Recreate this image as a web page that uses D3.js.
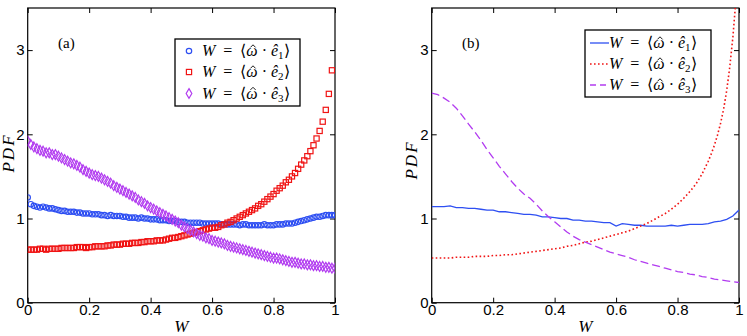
<!DOCTYPE html>
<html><head><meta charset="utf-8">
<script src="https://cdn.jsdelivr.net/npm/d3@7/dist/d3.min.js"></script>
<style>
body{margin:0;background:#fff;}
svg{display:block;}
.tick text{font-family:"Liberation Sans",Arial,sans-serif;font-size:15px;fill:#000;}
.tick line{stroke:#000;stroke-width:1;}
.serif{font-family:"Liberation Serif","Times New Roman",serif;}
</style>
</head><body>
<svg id="chart" width="747" height="336"></svg>
<script>
// ---------- data ----------
const wGridA = [0,0.01,0.02,0.03,0.04,0.05,0.06,0.07,0.08,0.09,0.10,0.11,0.12,0.13,0.14,0.15,0.16,0.17,0.18,0.19,0.20,0.21,0.22,0.23,0.24,0.25,0.26,0.27,0.28,0.29,0.30,0.31,0.32,0.33,0.34,0.35,0.36,0.37,0.38,0.39,0.40,0.41,0.42,0.43,0.44,0.45,0.46,0.47,0.48,0.49,0.50,0.51,0.52,0.53,0.54,0.55,0.56,0.57,0.58,0.59,0.60,0.61,0.62,0.63,0.64,0.65,0.66,0.67,0.68,0.69,0.70,0.71,0.72,0.73,0.74,0.75,0.76,0.77,0.78,0.79,0.80,0.81,0.82,0.83,0.84,0.85,0.86,0.87,0.88,0.89,0.90,0.91,0.92,0.93,0.94,0.95,0.96,0.97,0.98,0.99,1.00];

const pdfA_e1 = [1.25,1.17,1.15,1.14,1.13,1.14,1.13,1.12,1.12,1.11,
1.10,1.09,1.09,1.08,1.08,1.08,1.07,1.07,1.06,1.06,
1.06,1.05,1.05,1.05,1.04,1.04,1.03,1.04,1.03,1.03,
1.03,1.02,1.02,1.01,1.01,1.01,1.00,1.01,1.00,1.00,
0.99,0.99,0.99,0.98,0.98,0.98,0.97,0.97,0.97,0.96,
0.96,0.96,0.95,0.95,0.95,0.95,0.95,0.94,0.94,0.94,
0.94,0.94,0.94,0.93,0.93,0.93,0.93,0.93,0.93,0.92,
0.93,0.93,0.92,0.92,0.92,0.92,0.92,0.93,0.92,0.92,
0.92,0.93,0.93,0.93,0.94,0.94,0.94,0.95,0.96,0.97,
0.98,0.99,1.00,1.01,1.02,1.02,1.03,1.04,1.04,1.04,
1.04];

const pdfA_e2 = [0.63,0.63,0.63,0.63,0.64,0.64,0.63,0.64,0.64,0.64,
0.64,0.65,0.65,0.65,0.65,0.65,0.66,0.66,0.66,0.65,
0.66,0.66,0.67,0.67,0.67,0.67,0.68,0.68,0.69,0.69,
0.69,0.70,0.70,0.70,0.71,0.71,0.71,0.72,0.72,0.73,
0.73,0.73,0.74,0.74,0.74,0.75,0.76,0.77,0.77,0.78,
0.79,0.80,0.81,0.82,0.83,0.84,0.85,0.86,0.87,0.88,
0.89,0.89,0.90,0.92,0.93,0.95,0.96,0.98,1.00,1.02,
1.04,1.06,1.08,1.10,1.12,1.15,1.17,1.20,1.23,1.26,
1.29,1.33,1.36,1.39,1.43,1.46,1.50,1.54,1.59,1.64,
1.69,1.74,1.80,1.87,1.95,2.04,2.15,2.29,2.48,2.76];

const pdfA_e3 = [1.92,1.88,1.85,1.83,1.81,1.80,1.78,1.78,1.76,1.76,
1.74,1.72,1.70,1.68,1.66,1.65,1.63,1.61,1.58,1.56,
1.54,1.52,1.51,1.50,1.48,1.46,1.44,1.42,1.39,1.37,
1.35,1.33,1.31,1.29,1.27,1.25,1.22,1.20,1.18,1.15,
1.13,1.11,1.09,1.07,1.05,1.03,1.01,0.99,0.97,0.95,
0.92,0.90,0.88,0.86,0.84,0.82,0.80,0.79,0.77,0.76,
0.74,0.73,0.72,0.71,0.70,0.68,0.67,0.66,0.65,0.64,
0.63,0.62,0.61,0.60,0.59,0.58,0.57,0.56,0.55,0.54,
0.53,0.53,0.52,0.51,0.50,0.49,0.48,0.48,0.47,0.46,
0.46,0.45,0.45,0.44,0.44,0.43,0.43,0.42,0.42,0.41,
0.41];

const wGridB = [0,0.02,0.04,0.06,0.08,0.10,0.12,0.14,0.16,0.18,0.20,0.22,0.24,0.26,0.28,0.30,0.32,0.34,0.36,0.38,0.40,0.42,0.44,0.46,0.48,0.50,0.52,0.54,0.56,0.58,0.60,0.62,0.64,0.66,0.68,0.70,0.72,0.74,0.76,0.78,0.80,0.82,0.84,0.86,0.88,0.90,0.92,0.94,0.96,0.98,1.00];

const pdfB_e1 = [1.14,1.14,1.14,1.15,1.13,1.13,1.12,1.12,1.11,1.10,
1.10,1.08,1.08,1.07,1.06,1.05,1.05,1.04,1.02,1.02,
1.01,1.00,1.00,0.98,0.98,0.97,0.97,0.96,0.95,0.95,
0.91,0.94,0.93,0.92,0.92,0.91,0.91,0.91,0.91,0.92,
0.91,0.92,0.93,0.93,0.93,0.94,0.96,0.97,0.99,1.03,
1.10];

const pdfB_e3 = [2.49,2.47,2.43,2.38,2.31,2.22,2.12,2.03,1.93,1.82,
1.72,1.62,1.53,1.44,1.36,1.29,1.24,1.17,1.09,1.02,
0.96,0.90,0.84,0.79,0.75,0.72,0.69,0.66,0.63,0.60,
0.58,0.56,0.54,0.51,0.49,0.47,0.45,0.43,0.41,0.39,
0.37,0.36,0.34,0.33,0.31,0.30,0.28,0.27,0.26,0.25,
0.24];

const wGridB_e2 = [0,0.02,0.04,0.06,0.08,0.10,0.12,0.14,0.16,0.18,0.20,0.22,0.24,0.26,0.28,0.30,0.32,0.34,0.36,0.38,0.40,0.42,0.44,0.46,0.48,0.50,0.52,0.54,0.56,0.58,0.60,0.62,0.64,0.66,0.68,0.70,0.72,0.74,0.76,0.78,0.80,0.82,0.84,0.86,0.88,0.90,0.91,0.92,0.93,0.94,0.95,0.96,0.97,0.98,0.99];

const pdfB_e2 = [0.53,0.53,0.53,0.53,0.54,0.54,0.54,0.55,0.55,0.55,
0.56,0.56,0.57,0.57,0.58,0.59,0.60,0.61,0.62,0.63,
0.64,0.65,0.67,0.68,0.70,0.72,0.73,0.75,0.77,0.79,
0.81,0.83,0.85,0.88,0.91,0.94,0.98,1.02,1.06,1.11,
1.17,1.24,1.32,1.41,1.53,1.68,
1.77,1.87,1.99,2.13,2.30,2.52,2.80,3.15,3.60];

const xTickValues = [0,0.2,0.4,0.6,0.8,1];
const xTickLabels = ["0","0.2","0.4","0.6","0.8","1"];
const yTickValues = [0,1,2,3];
const yTickLabels = ["0","1","2","3"];
const seriesSubscripts = ["1","2","3"];
const panelLabels = ["(a)","(b)"];

// ---------- styles ----------
const colBlue = "#2e4ff2", colRed = "#f01414", colPurple = "#b23cf0";
const svg = d3.select("#chart");
const Y0 = 302.7, Y1 = 8;

function panel(x0, x1, id){
  const x = d3.scaleLinear().domain([0,1]).range([x0,x1]);
  const y = d3.scaleLinear().domain([0,3.5]).range([Y0,Y1]);
  const g = svg.append("g");
  g.append("defs").append("clipPath").attr("id","clip"+id)
    .append("rect").attr("x",x0).attr("y",Y1).attr("width",x1-x0).attr("height",Y0-Y1);
  const tickFmtX = (d,i)=>xTickLabels[i];
  const tickFmtY = (d,i)=>yTickLabels[i];
  g.append("g").attr("transform",`translate(0,${Y0})`)
    .call(d3.axisBottom(x).tickValues(xTickValues).tickFormat(tickFmtX).tickSize(-5).tickPadding(2))
    .call(s=>s.select(".domain").remove());
  g.append("g").attr("transform",`translate(0,${Y1})`)
    .call(d3.axisTop(x).tickValues(xTickValues).tickFormat("").tickSize(-5))
    .call(s=>s.select(".domain").remove());
  g.append("g").attr("transform",`translate(${x0},0)`)
    .call(d3.axisLeft(y).tickValues(yTickValues).tickFormat(tickFmtY).tickSize(-5).tickPadding(3))
    .call(s=>s.select(".domain").remove());
  g.append("g").attr("transform",`translate(${x1},0)`)
    .call(d3.axisRight(y).tickValues(yTickValues).tickFormat("").tickSize(-5))
    .call(s=>s.select(".domain").remove());
  g.append("rect").attr("x",x0).attr("y",Y1).attr("width",x1-x0).attr("height",Y0-Y1)
    .attr("fill","none").attr("stroke","#000").attr("stroke-width",1.2);
  g.append("text").attr("class","serif").attr("x",(x0+x1)/2).attr("y",332).attr("text-anchor","middle")
    .attr("font-style","italic").attr("font-size",17).text("W");
  return {g,x,y};
}

function yLabel(cx, cy){
  svg.append("text").attr("class","serif").attr("transform",`translate(${cx},${cy}) rotate(-90)`)
    .attr("text-anchor","middle")
    .attr("font-style","italic").attr("font-size",17).attr("letter-spacing",2).text("PDF");
}

function legendText(g, x, y, sub){
  const t = g.append("text").attr("class","serif").attr("x",x).attr("y",y)
    .attr("font-size",16).attr("fill","#000");
  t.append("tspan").attr("font-style","italic").text("W");
  t.append("tspan").text("\u2002=\u2002\u27E8");
  t.append("tspan").attr("font-style","italic").text("\u03C9");
  t.append("tspan").text(" \u00B7 ");
  t.append("tspan").attr("font-style","italic").text("\u00EA");
  t.append("tspan").attr("font-size",11).attr("dy",3).text(sub);
  t.append("tspan").attr("dy",-3).text("\u27E9");
  // hat over omega, drawn as a small stroke
  const n = t.node();
  const s = n.getStartPositionOfChar(5), e = n.getEndPositionOfChar(5);
  const cx = (s.x+e.x)/2 + 1;
  g.append("path").attr("d",`M${cx-2.6},${y-8.6}L${cx},${y-11.2}L${cx+2.6},${y-8.6}`)
    .attr("fill","none").attr("stroke","#000").attr("stroke-width",0.9);
}

const diamond = d3.symbol().type(d3.symbolDiamond).size(28);

// ---------- panel (a) ----------
const A = panel(27.7, 335, "A");
yLabel(14, 153);
const gA = A.g.append("g").attr("clip-path","url(#clipA)");
gA.append("g").selectAll("circle").data(pdfA_e1).join("circle")
  .attr("cx",(d,i)=>A.x(wGridA[i])).attr("cy",d=>A.y(d)).attr("r",2.7)
  .attr("fill","none").attr("stroke",colBlue).attr("stroke-width",1.2);
gA.append("g").selectAll("rect").data(pdfA_e2).join("rect")
  .attr("x",(d,i)=>A.x(wGridA[i])-2.6).attr("y",d=>A.y(d)-2.6).attr("width",5.2).attr("height",5.2)
  .attr("fill","none").attr("stroke",colRed).attr("stroke-width",1.2);
gA.append("g").selectAll("path").data(pdfA_e3).join("path")
  .attr("transform",(d,i)=>`translate(${A.x(wGridA[i])},${A.y(d)})`).attr("d",diamond)
  .attr("fill","none").attr("stroke",colPurple).attr("stroke-width",1.2);
A.g.append("text").attr("class","serif").attr("x",58).attr("y",48).attr("font-size",15).text(panelLabels[0]);

// legend (a)
const legA = A.g.append("g");
legA.append("rect").attr("x",175).attr("y",39).attr("width",125).attr("height",67)
  .attr("fill","#fff").attr("stroke","#000").attr("stroke-width",1.3);
const rowsA = [51, 72, 93.5];
legA.append("circle").attr("cx",189).attr("cy",rowsA[0]).attr("r",2.7).attr("fill","none").attr("stroke",colBlue).attr("stroke-width",1.2);
legA.append("rect").attr("x",189-2.6).attr("y",rowsA[1]-2.6).attr("width",5.2).attr("height",5.2).attr("fill","none").attr("stroke",colRed).attr("stroke-width",1.2);
legA.append("path").attr("transform",`translate(189,${rowsA[2]})`).attr("d",diamond).attr("fill","none").attr("stroke",colPurple).attr("stroke-width",1.2);
rowsA.forEach((ry,i)=>legendText(legA, 202, ry+5, seriesSubscripts[i]));

// ---------- panel (b) ----------
const B = panel(431.7, 739, "B");
yLabel(417, 160);
const gB = B.g.append("g").attr("clip-path","url(#clipB)");
const lineB = (xs)=>d3.line().x((d,i)=>B.x(xs[i])).y(d=>B.y(d));
gB.append("path").attr("d",lineB(wGridB)(pdfB_e1)).attr("fill","none").attr("stroke",colBlue).attr("stroke-width",1.3);
gB.append("path").attr("d",lineB(wGridB_e2)(pdfB_e2)).attr("fill","none").attr("stroke",colRed).attr("stroke-width",1.6).attr("stroke-dasharray","1.6,2.4");
gB.append("path").attr("d",lineB(wGridB)(pdfB_e3)).attr("fill","none").attr("stroke",colPurple).attr("stroke-width",1.3).attr("stroke-dasharray","8,4");
B.g.append("text").attr("class","serif").attr("x",462).attr("y",48).attr("font-size",15).text(panelLabels[1]);

// legend (b)
const legB = B.g.append("g");
legB.append("rect").attr("x",585).attr("y",30).attr("width",126).attr("height",67)
  .attr("fill","#fff").attr("stroke","#000").attr("stroke-width",1.3);
const rowsB = [43, 64, 85];
const lineStyles = [[colBlue,null,1.3],[colRed,"1.6,2.4",1.6],[colPurple,"6,4",1.3]];
rowsB.forEach((ry,i)=>{
  legB.append("line").attr("x1",590).attr("x2",609).attr("y1",ry).attr("y2",ry)
    .attr("stroke",lineStyles[i][0]).attr("stroke-width",lineStyles[i][2]).attr("stroke-dasharray",lineStyles[i][1]);
  legendText(legB, 609, ry+5, seriesSubscripts[i]);
});
</script>
</body></html>
